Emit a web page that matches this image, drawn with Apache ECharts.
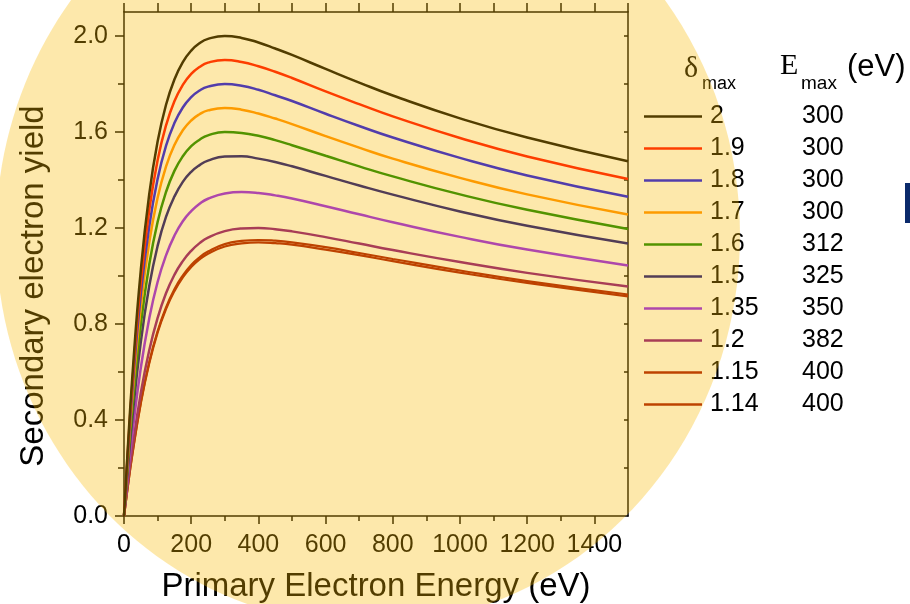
<!DOCTYPE html>
<html>
<head>
<meta charset="utf-8">
<title>Secondary electron yield</title>
<script src="https://cdn.jsdelivr.net/npm/echarts@6/dist/echarts.min.js"></script>
<style>
  html, body { margin: 0; padding: 0; background: #ffffff; }
  #chart { width: 910px; height: 604px; }
</style>
</head>
<body>
<div id="chart"></div>
<script>
// primary electron energy (eV), sampled along the curves
const energy = [0, 10, 25, 50, 75, 100, 125, 150, 175, 200, 225, 250, 300, 350, 400, 450, 500, 600, 700, 800, 1000, 1200, 1500];

// legend columns
const deltaMax = ["2", "1.9", "1.8", "1.7", "1.6", "1.5", "1.35", "1.2", "1.15", "1.14"];
const eMax = ["300", "300", "300", "300", "312", "325", "350", "382", "400", "400"];

// secondary electron yield
const yield200 = [0, 0.250, 0.585, 1.025, 1.340, 1.560, 1.713, 1.819, 1.891, 1.939, 1.970, 1.988, 2.000, 1.992, 1.973, 1.948, 1.921, 1.863, 1.806, 1.752, 1.657, 1.577, 1.478];
const yield190 = [0, 0.238, 0.555, 0.974, 1.273, 1.482, 1.627, 1.728, 1.796, 1.842, 1.871, 1.889, 1.900, 1.892, 1.874, 1.851, 1.825, 1.769, 1.716, 1.665, 1.575, 1.498, 1.404];
const yield180 = [0, 0.225, 0.526, 0.923, 1.206, 1.404, 1.542, 1.637, 1.702, 1.745, 1.773, 1.789, 1.800, 1.793, 1.776, 1.753, 1.729, 1.676, 1.625, 1.577, 1.492, 1.419, 1.330];
const yield170 = [0, 0.213, 0.497, 0.871, 1.139, 1.326, 1.456, 1.546, 1.607, 1.648, 1.674, 1.690, 1.700, 1.693, 1.677, 1.656, 1.633, 1.583, 1.535, 1.489, 1.409, 1.340, 1.256];
const yield160 = [0, 0.192, 0.452, 0.797, 1.047, 1.225, 1.350, 1.438, 1.499, 1.541, 1.568, 1.586, 1.600, 1.596, 1.584, 1.566, 1.545, 1.501, 1.457, 1.415, 1.340, 1.276, 1.196];
const yield150 = [0, 0.174, 0.408, 0.725, 0.957, 1.125, 1.246, 1.331, 1.392, 1.434, 1.462, 1.481, 1.498, 1.499, 1.489, 1.475, 1.457, 1.417, 1.377, 1.339, 1.269, 1.209, 1.135];
const yield135 = [0, 0.145, 0.344, 0.617, 0.822, 0.975, 1.086, 1.168, 1.228, 1.270, 1.301, 1.322, 1.344, 1.350, 1.346, 1.336, 1.323, 1.291, 1.257, 1.224, 1.163, 1.110, 1.044];
const yield120 = [0, 0.119, 0.283, 0.512, 0.690, 0.825, 0.928, 1.005, 1.062, 1.105, 1.137, 1.160, 1.187, 1.198, 1.200, 1.195, 1.186, 1.162, 1.135, 1.108, 1.058, 1.013, 0.956];
const yield115 = [0, 0.109, 0.260, 0.473, 0.641, 0.770, 0.869, 0.945, 1.002, 1.046, 1.078, 1.102, 1.133, 1.146, 1.150, 1.147, 1.140, 1.120, 1.096, 1.071, 1.023, 0.979, 0.923];
const yield114 = [0, 0.108, 0.257, 0.469, 0.635, 0.764, 0.862, 0.937, 0.994, 1.037, 1.069, 1.093, 1.123, 1.136, 1.140, 1.137, 1.131, 1.110, 1.087, 1.062, 1.014, 0.971, 0.915];
const yields = [yield200, yield190, yield180, yield170, yield160, yield150, yield135, yield120, yield115, yield114];

// ticks
const xLabelTicks = [0, 200, 400, 600, 800, 1000, 1200, 1400];
const xMinorTicks = [100, 300, 500, 700, 900, 1100, 1300];
const xTopTicks = [0, 100, 200, 300, 400, 500, 600, 700, 800, 900, 1000, 1100, 1200, 1300, 1400, 1500];
const yLabelTicks = [0, 0.4, 0.8, 1.2, 1.6, 2.0];
const yMinorTicks = [0.2, 0.6, 1.0, 1.4, 1.8];
const yRightTicks = [0.2, 0.4, 0.6, 0.8, 1.0, 1.2, 1.4, 1.6, 1.8, 2.0];

const lineColors = ["#000000", "#ff0000", "#0000ff", "#ff8c00", "#008000",
                    "#000080", "#8a10ff", "#800080", "#a00800", "#a00800"];
const lineWidths = [2.5, 2.5, 2.5, 2.5, 2.5, 2.5, 2.5, 2.5, 2.2, 2.2];

const SANS = "'Liberation Sans', Arial, sans-serif";
const SERIF = "'Liberation Serif', 'Times New Roman', serif";
const INK = "#000000";

const chart = echarts.init(document.getElementById("chart"), null, { renderer: "canvas" });

const axisLine = { show: true, onZero: false, lineStyle: { color: INK, width: 1.5 } };
const tickStyle = { color: INK, width: 1.5 };

const option = {
  animation: false,
  backgroundColor: "#ffffff",
  grid: { left: 124, right: 282, top: 12, bottom: 88, outerBoundsMode: "none", containLabel: false },
  xAxis: [
    {
      type: "value", position: "bottom", min: 0, max: 1500,
      axisLine: axisLine,
      axisTick: { show: true, length: 8, customValues: xLabelTicks, lineStyle: tickStyle },
      axisLabel: {
        customValues: xLabelTicks, margin: 17,
        fontSize: 25, fontFamily: SANS, color: INK,
        formatter: v => String(v)
      },
      splitLine: { show: false },
      name: "Primary Electron Energy (eV)",
      nameLocation: "middle", nameGap: 54,
      nameTextStyle: { fontSize: 33, fontFamily: SANS, color: INK }
    },
    {
      type: "value", position: "bottom", min: 0, max: 1500,
      axisLine: { show: false, onZero: false },
      axisTick: { show: true, length: 5, customValues: xMinorTicks, lineStyle: tickStyle },
      axisLabel: { show: false },
      splitLine: { show: false }
    },
    {
      type: "value", position: "top", min: 0, max: 1500,
      axisLine: axisLine,
      axisTick: { show: true, length: 9, customValues: xTopTicks, lineStyle: tickStyle },
      axisLabel: { show: false },
      splitLine: { show: false }
    }
  ],
  yAxis: [
    {
      type: "value", position: "left", min: 0, max: 2.1,
      axisLine: axisLine,
      axisTick: { show: true, length: 9, customValues: yLabelTicks, lineStyle: tickStyle },
      axisLabel: {
        customValues: yLabelTicks, margin: 16,
        fontSize: 25, fontFamily: SANS, color: INK,
        formatter: v => Number(v).toFixed(1)
      },
      splitLine: { show: false },
      name: "Secondary electron yield",
      nameLocation: "middle", nameGap: 74,
      nameTextStyle: { fontSize: 33, fontFamily: SANS, color: INK, padding: [0, 44, 0, 0] }
    },
    {
      type: "value", position: "left", min: 0, max: 2.1,
      axisLine: { show: false, onZero: false },
      axisTick: { show: true, length: 6, customValues: yMinorTicks, lineStyle: tickStyle },
      axisLabel: { show: false },
      splitLine: { show: false }
    },
    {
      type: "value", position: "right", min: 0, max: 2.1,
      axisLine: axisLine,
      axisTick: { show: true, inside: true, length: 4, customValues: yRightTicks, lineStyle: tickStyle },
      axisLabel: { show: false },
      splitLine: { show: false }
    }
  ],
  legend: {
    orient: "vertical", left: 639, top: 99,
    icon: "rect", itemWidth: 58, itemHeight: 2.5, itemGap: 7,
    selectedMode: false,
    data: deltaMax,
    formatter: name => "{a|" + name + "}{b|" + eMax[deltaMax.indexOf(name)] + "}",
    textStyle: {
      fontSize: 25, lineHeight: 25, fontFamily: SANS, color: INK,
      padding: [0, 0, 0, 3],
      rich: {
        a: { width: 92, fontSize: 25, lineHeight: 25, fontFamily: SANS, color: INK },
        b: { fontSize: 25, lineHeight: 25, fontFamily: SANS, color: INK }
      }
    }
  },
  series: deltaMax.map((name, i) => ({
    name: name,
    type: "line",
    xAxisIndex: 0,
    yAxisIndex: 0,
    data: energy.map((e, k) => [e, yields[i][k]]),
    smooth: true,
    symbol: "none",
    lineStyle: { color: lineColors[i], width: lineWidths[i] },
    itemStyle: { color: lineColors[i] },
    z: 2 + (deltaMax.length - i) * 0.01
  })),
  graphic: [
    // legend headers
    { type: "text", z: 50, x: 684, y: 84, style: { text: "δ", fontSize: 30, fontFamily: SERIF, fill: INK, align: "left", verticalAlign: "bottom" } },
    { type: "text", z: 50, x: 702, y: 84, style: { text: "max", fontSize: 18, fontFamily: SANS, fill: INK, align: "left", verticalAlign: "middle" } },
    { type: "text", z: 50, x: 780, y: 81, style: { text: "E", fontSize: 30, fontFamily: SERIF, fill: INK, align: "left", verticalAlign: "bottom" } },
    { type: "text", z: 50, x: 801, y: 84, style: { text: "max", fontSize: 19, fontFamily: SANS, fill: INK, align: "left", verticalAlign: "middle" } },
    { type: "text", z: 50, x: 847, y: 67, style: { text: "(eV)", fontSize: 31, fontFamily: SANS, fill: INK, align: "left", verticalAlign: "middle" } },
    // dark blue tab at the right edge
    { type: "rect", z: 50, shape: { x: 905, y: 183, width: 10, height: 40 }, style: { fill: "#0b2a6b" } },
    // translucent yellow disc laid over the figure
    {
      type: "ellipse", z: 100, silent: true,
      shape: { cx: 368, cy: 235, rx: 372, ry: 390 },
      style: { fill: "rgb(249,185,0)", opacity: 0.33 }
    }
  ]
};

chart.setOption(option);
</script>
</body>
</html>
